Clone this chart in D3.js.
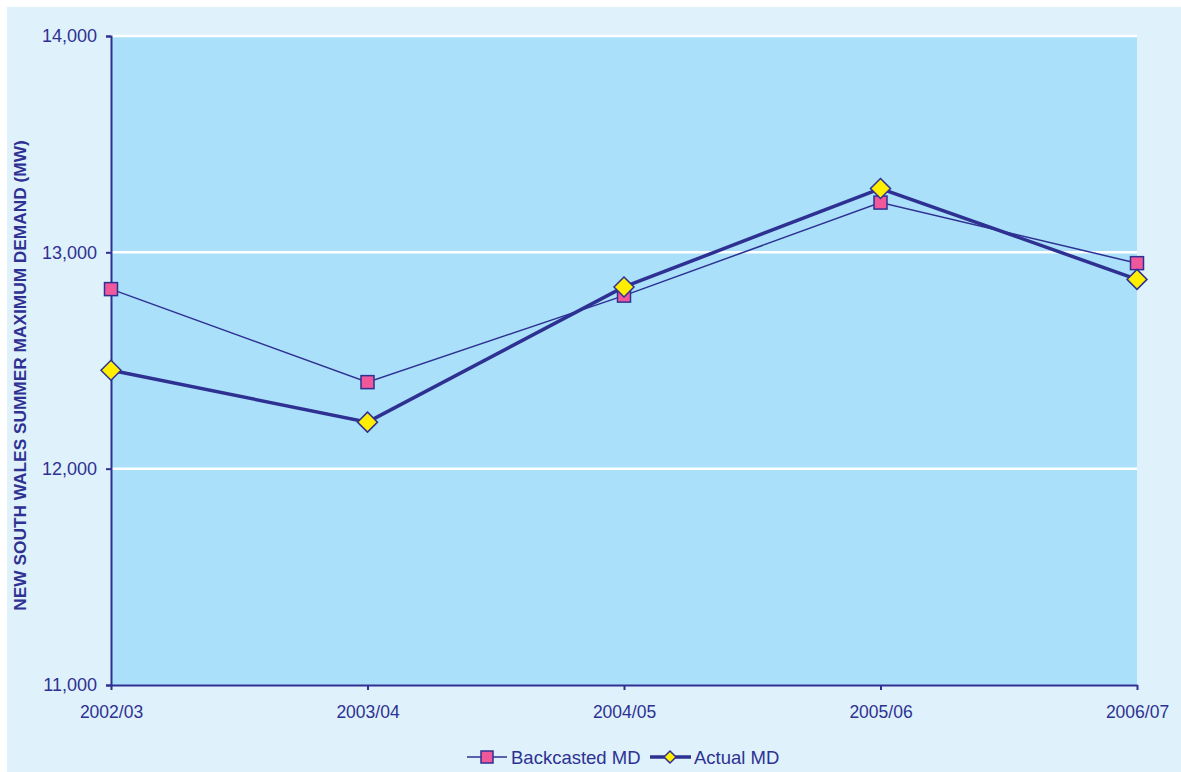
<!DOCTYPE html>
<html>
<head>
<meta charset="utf-8">
<script src="https://cdn.jsdelivr.net/npm/d3@7/dist/d3.min.js"></script>
<style>
  html, body { margin: 0; padding: 0; background: #ffffff; }
  svg { display: block; }
  text { font-family: "Liberation Sans", Arial, sans-serif; fill: #2e3192; }
</style>
</head>
<body>
<svg id="chart" width="1181" height="772"></svg>
<script>
// Financial years on the x axis
const categories = ["2002/03", "2003/04", "2004/05", "2005/06", "2006/07"];
// NSW summer maximum demand, MW
const backcastedMD = [12830, 12400, 12800, 13230, 12950];
const actualMD     = [12455, 12215, 12840, 13295, 12875];
const yTicks = [11000, 12000, 13000, 14000];

const W = 1181, H = 772;
const margin = { left: 111, right: 1137, top: 36, bottom: 685 };
const navy = "#2e3192";
const font = '"Liberation Sans", Arial, sans-serif';

const svg = d3.select("#chart");

// outer panel
svg.append("rect").attr("x", 7).attr("y", 7).attr("width", W - 7).attr("height", H - 7)
  .attr("fill", "#dff1fb");

const x = d3.scalePoint().domain(categories).range([margin.left, margin.right]);
const y = d3.scaleLinear().domain([11000, 14000]).range([margin.bottom, margin.top]);

// plot area
svg.append("rect")
  .attr("x", margin.left).attr("y", margin.top)
  .attr("width", margin.right - margin.left).attr("height", margin.bottom - margin.top)
  .attr("fill", "#aae0fa");

// horizontal gridlines
svg.append("g").selectAll("line").data(yTicks.filter(d => d > 11000)).join("line")
  .attr("x1", margin.left).attr("x2", margin.right)
  .attr("y1", d => y(d)).attr("y2", d => y(d))
  .attr("stroke", "#ffffff").attr("stroke-width", 2.5);

// y axis
const yAxis = svg.append("g").attr("transform", `translate(${margin.left},0)`)
  .call(d3.axisLeft(y).tickValues(yTicks).tickSize(5).tickPadding(9).tickFormat(d3.format(",")));
yAxis.attr("font-size", 18).attr("font-family", font);
yAxis.select(".domain").attr("stroke", navy).attr("stroke-width", 2);
yAxis.selectAll(".tick line").attr("stroke", navy).attr("stroke-width", 2);
yAxis.selectAll("text").attr("fill", navy);

// x axis
const xAxis = svg.append("g").attr("transform", `translate(0,${margin.bottom})`)
  .call(d3.axisBottom(x).tickSize(5).tickPadding(16).tickSizeOuter(0));
xAxis.attr("font-size", 17.5).attr("font-family", font);
xAxis.select(".domain").attr("stroke", navy).attr("stroke-width", 2);
xAxis.selectAll(".tick line").attr("stroke", navy).attr("stroke-width", 2);
xAxis.selectAll("text").attr("fill", navy);

// y axis title
svg.append("text")
  .attr("transform", `translate(26,${(margin.top + margin.bottom) / 2 + 15}) rotate(-90)`)
  .attr("text-anchor", "middle")
  .attr("font-size", 17.3).attr("font-weight", "bold")
  .text("NEW SOUTH WALES SUMMER MAXIMUM DEMAND (MW)");

const line = d3.line().x((d, i) => x(categories[i])).y(d => y(d));

// Backcasted series: thin line, pink squares
svg.append("path").datum(backcastedMD).attr("d", line)
  .attr("fill", "none").attr("stroke", navy).attr("stroke-width", 1.5);
// Actual series: thick line, yellow diamonds
svg.append("path").datum(actualMD).attr("d", line)
  .attr("fill", "none").attr("stroke", navy).attr("stroke-width", 3.5);

const sq = 13;
svg.append("g").selectAll("rect").data(backcastedMD).join("rect")
  .attr("x", (d, i) => x(categories[i]) - sq / 2)
  .attr("y", d => y(d) - sq / 2)
  .attr("width", sq).attr("height", sq)
  .attr("fill", "#f0589b").attr("stroke", navy).attr("stroke-width", 1.5);

const diamond = (cx, cy, r) => `M${cx},${cy - r}L${cx + r},${cy}L${cx},${cy + r}L${cx - r},${cy}Z`;
svg.append("g").selectAll("path").data(actualMD).join("path")
  .attr("d", (d, i) => diamond(x(categories[i]), y(d), 10))
  .attr("fill", "#ffee00").attr("stroke", navy).attr("stroke-width", 1.5);

// legend
const lg = svg.append("g").attr("transform", "translate(0,757)");
lg.append("line").attr("x1", 467).attr("x2", 507).attr("y1", 0).attr("y2", 0)
  .attr("stroke", navy).attr("stroke-width", 1.5);
lg.append("rect").attr("x", 481).attr("y", -6).attr("width", 12).attr("height", 12)
  .attr("fill", "#f0589b").attr("stroke", navy).attr("stroke-width", 1.5);
lg.append("text").attr("x", 511).attr("y", 6.5).attr("font-size", 18.5).text("Backcasted MD");

lg.append("line").attr("x1", 650).attr("x2", 691).attr("y1", 0).attr("y2", 0)
  .attr("stroke", navy).attr("stroke-width", 3.5);
lg.append("path").attr("d", diamond(670, 0, 6))
  .attr("fill", "#ffee00").attr("stroke", navy).attr("stroke-width", 1.5);
lg.append("text").attr("x", 694).attr("y", 6.5).attr("font-size", 18.5).text("Actual MD");
</script>
</body>
</html>
